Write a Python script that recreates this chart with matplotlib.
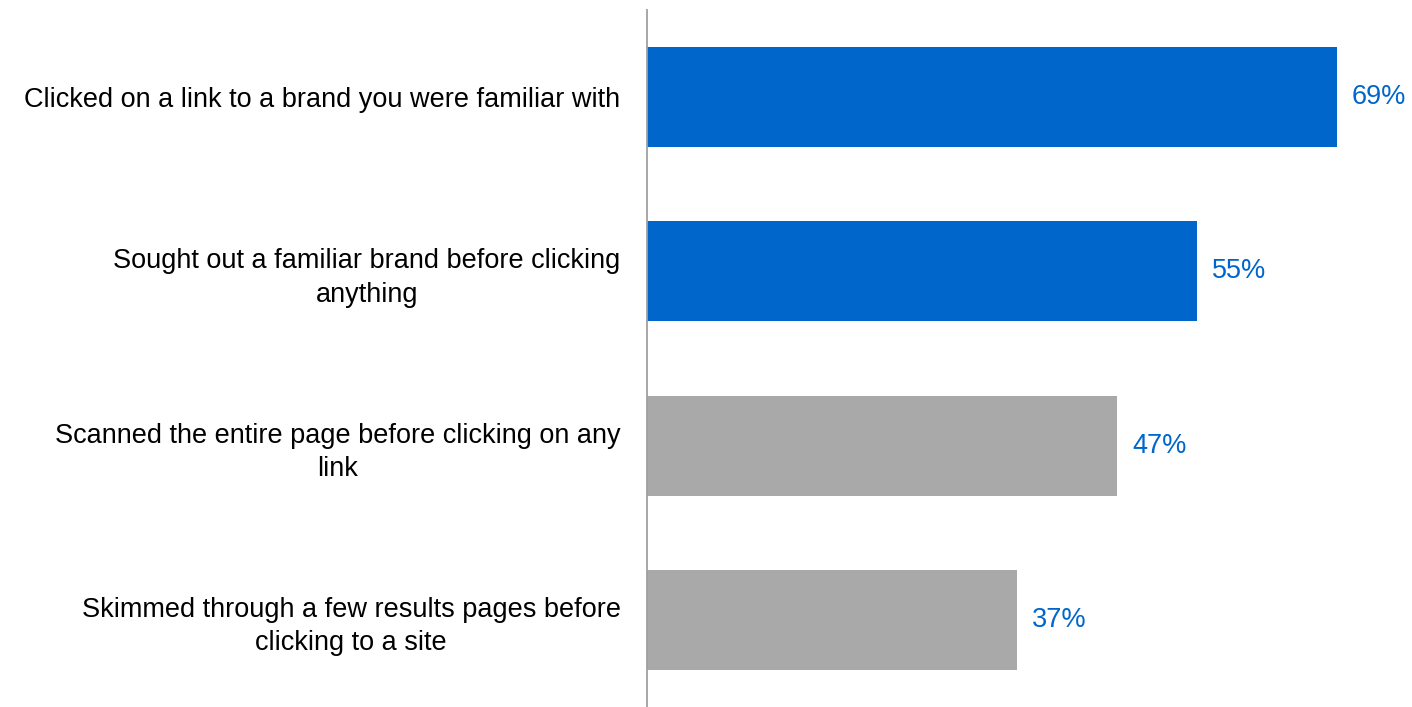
import matplotlib
matplotlib.use('Agg')
import matplotlib.pyplot as plt

# survey answers, top to bottom
labels = [
    'Clicked on a link to a brand you were familiar with',
    'Sought out a familiar brand before clicking\nanything',
    'Scanned the entire page before clicking on any\nlink',
    'Skimmed through a few results pages before\nclicking to a site',
]
values = [69, 55, 47, 37]
colors = ['#0066CC', '#0066CC', '#A9A9A9', '#A9A9A9']

plt.rcParams['font.family'] = ['Liberation Sans', 'DejaVu Sans']

fig = plt.figure(figsize=(14.12, 7.07), dpi=100)
ax = fig.add_axes([647 / 1412, 0, 1 - 647 / 1412, 1 - 10 / 707])

pos = list(range(len(values)))
ax.barh(pos, values, height=0.575, color=colors)
ax.set_xlim(0, 76.5)
ax.set_ylim(3.5, -0.5)

for y, v in zip(pos, values):
    ax.text(v + 1.5, y, f'{v}%', va='center', ha='left', fontsize=19.5, color='#0066CC')

ax.set_yticks(pos)
ax.set_yticklabels(labels, fontsize=19.5, linespacing=1.38)
for t in ax.get_yticklabels():
    t.set_multialignment('center')
ax.tick_params(axis='y', length=0, pad=19)
ax.set_xticks([])

for s in ['top', 'right', 'bottom']:
    ax.spines[s].set_visible(False)
ax.spines['left'].set_color('#A0A0A0')
ax.spines['left'].set_linewidth(1.3)

fig.savefig('out.png', dpi=100)
